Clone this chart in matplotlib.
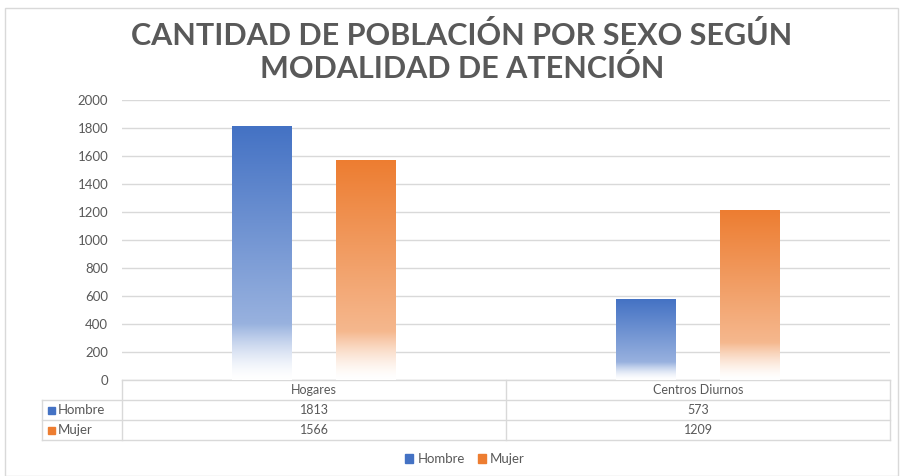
import matplotlib.pyplot as plt
import numpy as np
from matplotlib.patches import Patch, Rectangle
from matplotlib.lines import Line2D

categories = ["Hogares", "Centros Diurnos"]
series = ["Hombre", "Mujer"]
hombre = [1813, 573]
mujer = [1566, 1209]
colors = ["#4472C4", "#ED7D31"]
yticks = [0, 200, 400, 600, 800, 1000, 1200, 1400, 1600, 1800, 2000]

plt.rcParams['font.family'] = ['Lato', 'DejaVu Sans']
grey = "#595959"
gridc = "#D9D9D9"


def gradient(c):
    # fraction of the way from white to the colour, bottom -> top
    t = np.linspace(0, 1, 200)
    mix = np.where(t < 0.22, 0.55 * (t / 0.22) ** 1.5, 0.55 + 0.45 * (t - 0.22) / 0.78)
    rgb = np.array(plt.matplotlib.colors.to_rgb(c))
    img = 1 - mix[:, None] * (1 - rgb[None, :])
    return img[:, None, :]


fig = plt.figure(figsize=(9, 4.76), dpi=100)
ax = fig.add_axes([122 / 900, 1 - 380 / 476, 768 / 900, 280 / 476])

width = 0.156
offs = [-0.135, 0.135]
for vals, off, c in zip([hombre, mujer], offs, colors):
    for i, v in enumerate(vals):
        x0 = i + off - width / 2
        ax.imshow(gradient(c), extent=[x0, x0 + width, 0, v], origin='lower',
                  aspect='auto', zorder=3, interpolation='bilinear')

ax.set_xlim(-0.5, 1.5)
ax.set_ylim(0, 2000)
ax.set_yticks(yticks)
ax.set_yticklabels([str(v) for v in yticks], fontsize=9.5, color=grey)
ax.set_xticks([])
ax.tick_params(axis='y', length=0, pad=10)
ax.grid(axis='y', color=gridc, linewidth=1, zorder=0)
for s in ax.spines.values():
    s.set_visible(False)

# data table below the plot
rh = 20 / 280
lx = -80 / 768
lc = dict(color=gridc, linewidth=1, transform=ax.transAxes, clip_on=False)
ax.add_line(Line2D([0, 1], [0, 0], **lc))
for k in range(1, 4):
    ax.add_line(Line2D([lx, 1], [-k * rh, -k * rh], **lc))
for xv in [0, 0.5, 1]:
    ax.add_line(Line2D([xv, xv], [0, -3 * rh], **lc))
ax.add_line(Line2D([lx, lx], [-rh, -3 * rh], **lc))

for i, cat in enumerate(categories):
    ax.text((i + 0.5) / 2, -0.5 * rh, cat, transform=ax.transAxes, ha='center',
            va='center', fontsize=9, color=grey)
for r, (name, vals, c) in enumerate(zip(series, [hombre, mujer], colors)):
    yc = -(r + 1.5) * rh
    ax.add_patch(Rectangle((lx + 6 / 768, yc - 3.5 / 280), 7 / 768, 7 / 280,
                           transform=ax.transAxes, color=c, clip_on=False))
    ax.text(lx + 16 / 768, yc, name, transform=ax.transAxes, ha='left',
            va='center', fontsize=9.5, color=grey)
    for i, v in enumerate(vals):
        ax.text((i + 0.5) / 2, yc, str(v), transform=ax.transAxes, ha='center',
                va='center', fontsize=9, color=grey)

handles = [Patch(color=c, label=s) for s, c in zip(series, colors)]
fig.legend(handles=handles, loc='center', bbox_to_anchor=(465 / 900, 1 - 459 / 476),
           ncol=2, frameon=False, fontsize=9.5, handlelength=0.6, handleheight=0.6,
           handletextpad=0.3, columnspacing=1.0, labelcolor=grey)

fig.text(462 / 900, 1 - 52 / 476, "CANTIDAD DE POBLACIÓN POR SEXO SEGÚN\nMODALIDAD DE ATENCIÓN",
         ha='center', va='center', fontsize=22, fontweight='bold', color=grey,
         linespacing=1.15)

fig.patches.append(Rectangle((5 / 900, 0), 893 / 900, 1 - 8 / 476, transform=fig.transFigure,
                             fill=False, edgecolor=gridc, linewidth=1))

fig.savefig("out.png", dpi=100)
